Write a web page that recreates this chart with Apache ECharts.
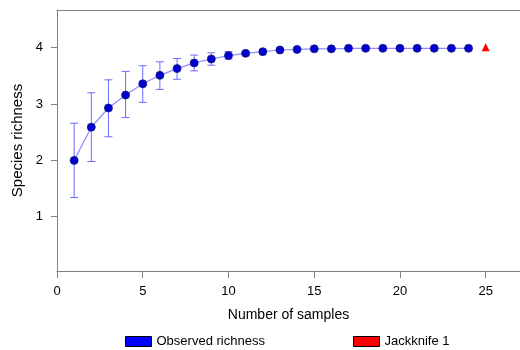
<!DOCTYPE html>
<html>
<head>
<meta charset="utf-8">
<script src="https://cdn.jsdelivr.net/npm/echarts@6/dist/echarts.min.js"></script>
<style>
    html, body {margin: 0; padding: 0; background: #fff;}
    #chart {width: 520px; height: 350px;}
</style>
</head>
<body>
<div id="chart"></div>
<script>
    const samples = [1, 2, 3, 4, 5, 6, 7, 8, 9, 10, 11, 12, 13, 14, 15, 16, 17, 18, 19, 20, 21, 22, 23, 24];
    const richness = [2.00, 2.59, 2.93, 3.16, 3.36, 3.51, 3.63, 3.73, 3.80, 3.86, 3.90, 3.93, 3.96, 3.97, 3.98, 3.98, 3.99, 3.99, 3.99, 3.99, 3.99, 3.99, 3.99, 3.99];
    const lowerCI = [1.34, 1.98, 2.42, 2.76, 3.03, 3.26, 3.44, 3.59, 3.69, 3.80, 3.87, 3.93, 3.96, 3.97, 3.98, 3.98, 3.99, 3.99, 3.99, 3.99, 3.99, 3.99, 3.99, 3.99];
    const upperCI = [2.66, 3.20, 3.43, 3.58, 3.68, 3.75, 3.81, 3.87, 3.91, 3.93, 3.93, 3.93, 3.96, 3.97, 3.98, 3.98, 3.99, 3.99, 3.99, 3.99, 3.99, 3.99, 3.99, 3.99];
    const jackknife = [[25, 4.01]];
    const yTicks = [1, 2, 3, 4];

    const chart = echarts.init(document.getElementById("chart"));

    const lineData = samples.map((s, i) => [s, richness[i]]);
    const errData = samples.map((s, i) => [s, lowerCI[i], upperCI[i]]);
    const font = "Liberation Sans, Arial, sans-serif";
    const axisGray = "#808080";

    const legendItem = (name, color, left) => ({
        left: left,
        top: 330,
        icon: "rect",
        itemWidth: 26,
        itemHeight: 10,
        textStyle: {fontFamily: font, fontSize: 13, color: "#000"},
        data: [{name: name, itemStyle: {color: color, borderColor: "#000", borderWidth: 1, opacity: 1}}]
    });

    chart.setOption({
        animation: false,
        grid: {
            left: 57,
            top: 10,
            right: -1.4,
            bottom: 79
        },
        legend: [
            legendItem("Observed richness", "#0000ff", 120),
            legendItem("Jackknife 1", "#ff0000", 348)
        ],
        xAxis: [
            {
                type: "value",
                min: 0,
                max: 27,
                interval: 5,
                name: "Number of samples",
                nameLocation: "middle",
                nameGap: 37,
                nameTextStyle: {fontFamily: font, fontSize: 14, color: "#000"},
                axisLine: {onZero: false, lineStyle: {color: axisGray}},
                axisTick: {length: 7, lineStyle: {color: axisGray}},
                axisLabel: {
                    fontFamily: font, fontSize: 13, color: "#000", margin: 14,
                    showMaxLabel: false
                },
                splitLine: {show: false}
            },
            {
                // top frame line only
                type: "value",
                position: "top",
                min: 0,
                max: 27,
                axisLine: {show: true, onZero: false, lineStyle: {color: axisGray}},
                axisTick: {show: false},
                axisLabel: {show: false},
                splitLine: {show: false}
            }
        ],
        yAxis: {
            type: "value",
            min: 0.036,
            max: 4.67,
            name: "Species richness",
            nameLocation: "middle",
            nameGap: 32,
            nameTextStyle: {fontFamily: font, fontSize: 15, color: "#000"},
            axisLine: {show: true, lineStyle: {color: axisGray}},
            axisTick: {show: true, length: 6, customValues: yTicks, lineStyle: {color: axisGray}},
            axisLabel: {fontFamily: font, fontSize: 13, color: "#000", margin: 14, customValues: yTicks},
            splitLine: {show: false}
        },
        series: [
            {
                name: "CI",
                type: "custom",
                data: errData,
                z: 1,
                renderItem: (params, api) => {
                    const x = api.value(0);
                    const lo = api.coord([x, api.value(1)]);
                    const hi = api.coord([x, api.value(2)]);
                    if (Math.abs(lo[1] - hi[1]) < 1) return null;
                    const w = 4;
                    const style = {stroke: "#6b6bff", lineWidth: 1};
                    return {
                        type: "group",
                        children: [
                            {type: "line", shape: {x1: lo[0], y1: lo[1], x2: hi[0], y2: hi[1]}, style},
                            {type: "line", shape: {x1: lo[0] - w, y1: lo[1], x2: lo[0] + w, y2: lo[1]}, style},
                            {type: "line", shape: {x1: hi[0] - w, y1: hi[1], x2: hi[0] + w, y2: hi[1]}, style}
                        ]
                    };
                }
            },
            {
                name: "Observed richness",
                type: "line",
                data: lineData,
                z: 3,
                symbol: "circle",
                symbolSize: 8,
                lineStyle: {color: "#8c8cff", width: 1.2},
                itemStyle: {color: "#0000d0", borderColor: "#1a1a80", borderWidth: 0.8}
            },
            {
                name: "Jackknife 1",
                type: "scatter",
                data: jackknife,
                z: 3,
                symbol: "triangle",
                symbolSize: 8,
                itemStyle: {color: "#ff0000", opacity: 1}
            }
        ]
    });
</script>
</body>
</html>
